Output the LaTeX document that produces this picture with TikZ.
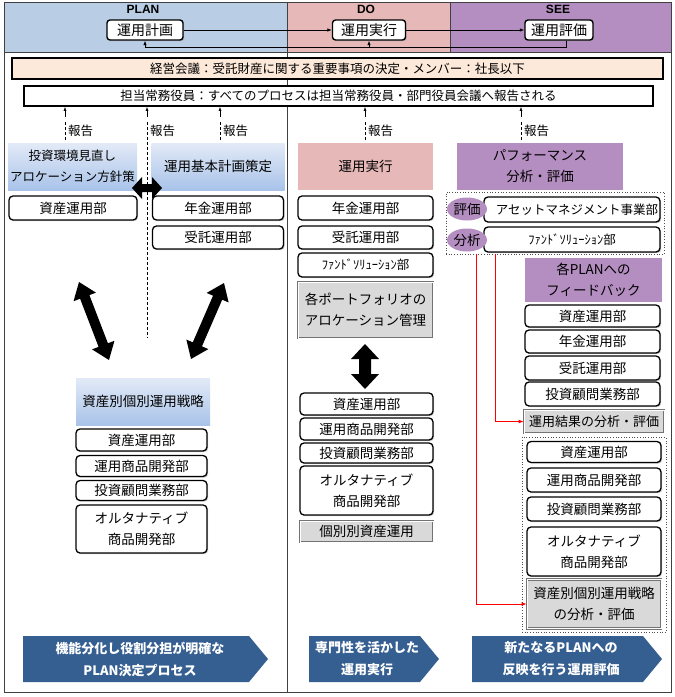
\documentclass[tikz,border=0pt]{standalone}
\usepackage{fontspec}
\setmainfont{Noto Sans CJK JP}
\newfontfamily\latfont{Liberation Sans}
\usetikzlibrary{arrows.meta,shapes.geometric,calc,shadows}
\definecolor{hblue}{HTML}{B9CDE5}
\definecolor{hpink}{HTML}{E6B9B8}
\definecolor{hpurp}{HTML}{B48EC0}
\definecolor{peach}{HTML}{FDE9D9}
\definecolor{gbox}{HTML}{D9D9D9}
\definecolor{chev}{HTML}{355F91}
\definecolor{framec}{HTML}{404040}
\definecolor{gtop}{HTML}{E2EAF7}
\definecolor{gbot}{HTML}{A9C3E9}
\newcommand\fsz[2]{\fontsize{#1}{#2}\selectfont}
\newcommand\fatdbl[5]{%
  \coordinate (fa) at ($(#1)!#5!(#2)$);
  \coordinate (fb) at ($(#2)!#5!(#1)$);
  \fill[black] (#1) -- ($(fa)!#3!90:(#2)$) -- ($(fa)!#4!90:(#2)$) -- ($(fb)!#4!-90:(#1)$) -- ($(fb)!#3!-90:(#1)$) -- (#2)
    -- ($(fb)!#3!90:(#1)$) -- ($(fb)!#4!90:(#1)$) -- ($(fa)!#4!-90:(#2)$) -- ($(fa)!#3!-90:(#2)$) -- cycle;
}
\tikzset{
  shd/.style={drop shadow={shadow xshift=1.2pt,shadow yshift=-1.2pt,fill=black!40}},
  dept/.style={draw=black, line width=1.3pt, rounded corners=4pt, fill=white, align=center, inner sep=0pt, font=\fsz{13.5}{21}, shd},
  hbox/.style={draw=black, line width=1.4pt, rounded corners=3pt, fill=white, inner sep=0pt, font=\fsz{14}{16}, shd, minimum height=20pt},
  hlabel/.style={font=\latfont\bfseries\fsz{12}{13}, inner sep=0pt},
  bar/.style={draw=black, line width=1.8pt, inner sep=0pt, font=\fsz{12.5}{15}},
  gradbox/.style={top color=gtop, bottom color=gbot, draw=none, align=center, inner sep=0pt, font=\fsz{13.5}{21}},
  colbox/.style={draw=none, align=center, inner sep=0pt, font=\fsz{13.5}{21}},
  graybox/.style={draw=black!55, double=white, double distance=0.8pt, line width=0.8pt, fill=gbox, align=center, inner sep=0pt, font=\fsz{13.5}{21}},
  dotbox/.style={draw=black!70, dotted, line width=0.7pt, inner sep=0pt},
  tag/.style={ellipse, fill=hpurp, inner sep=0pt, minimum width=40pt, minimum height=23pt, font=\fsz{13.5}{15}},
  rep/.style={-{Latex[length=4pt,width=3pt]}, line width=0.6pt},
  repdash/.style={dashed, dash pattern=on 3pt off 2pt, line width=0.6pt},
  replabel/.style={anchor=west, inner sep=0pt, font=\fsz{12.5}{14}},
  flow/.style={-{Latex[length=4.5pt,width=3.5pt]}, line width=0.7pt},
  redline/.style={red, line width=0.8pt, -{Latex[length=5pt,width=4pt]}},
  chevtext/.style={text=white, align=center, inner sep=0pt, font=\bfseries\fsz{13}{22}},
}
\begin{document}
\begin{tikzpicture}[x=1pt,y=-1pt]
\useasboundingbox (0,0) rectangle (675,697);
% header bands
\fill[hblue] (4,2) rectangle (287,52);
\fill[hpink] (287,2) rectangle (450,52);
\fill[hpurp] (450,2) rectangle (671,52);
\draw[framec, line width=1pt] (287,2) -- (287,692);
\draw[framec, line width=1pt] (450,2) -- (450,52);
\draw[framec, line width=1pt] (4,52) -- (671,52);
\draw[framec, line width=1pt] (4,2) rectangle (671,692);
% header content
\node[hlabel] (plan) at (143,9) {PLAN};
\node[hlabel] (do) at (366,9) {DO};
\node[hlabel] (see) at (558,9) {SEE};
\node[hbox, minimum width=76pt] (p1) at (145,30) {運用計画};
\node[hbox, minimum width=73pt] (d1) at (369,30) {運用実行};
\node[hbox, minimum width=68pt] (s1) at (559,30) {運用評価};
\draw[flow] (p1) -- (d1);
\draw[flow] (d1) -- (s1);
\coordinate (ret) at (0,47);
\draw[flow] (s1.south -| 566,0) -- (566,47) -- (p1.south |- ret) -- (p1.south);
\draw[flow] (d1.south |- ret) -- (d1.south);
% bars
\node[bar, fill=peach, minimum width=651pt, minimum height=21pt] (keiei) at (337.5,68.5) {経営会議：受託財産に関する重要事項の決定・メンバー：社長以下};
\node[bar, fill=white, minimum width=629pt, minimum height=20pt] (tanto) at (338.5,96) {担当常務役員：すべてのプロセスは担当常務役員・部門役員会議へ報告される};
% report arrows
\foreach \x/\n in {65/a,147/b,220/c,365/d,521/e} {
  \coordinate (rep\n) at (\x,117);
  \draw[rep] (rep\n) -- (rep\n |- tanto.south);
}
\foreach \x/\n in {65/a,220/c,365/d,521/e} {
  \coordinate (rd\n) at (\x,122);
  \draw[repdash] (rd\n) -- ++(0,18);
  \node[replabel] (lab\n) at (\x+3,131) {報告};
}
\coordinate (rdb) at (147,122);
\coordinate (rdbe) at (147,338);
\draw[repdash] (rdb) -- (rdbe);
\node[replabel] (labb) at (150,131) {報告};
% left column
\node[gradbox, minimum width=129pt, minimum height=47pt, font=\fsz{12.5}{21}] (kankyo) at (72.5,166.5) {投資環境見直し\\アロケーション方針策};
\node[gradbox, minimum width=133pt, minimum height=47pt] (kihon) at (218,166.5) {運用基本計画策定};
\coordinate (hA) at (132,188);
\coordinate (hB) at (162,188);
\fatdbl{hA}{hB}{11pt}{4pt}{10pt}
\node[dept, minimum width=128pt, minimum height=24pt] (l1) at (73,208) {資産運用部};
\node[dept, minimum width=131pt, minimum height=24pt] (l2) at (218,208) {年金運用部};
\node[dept, minimum width=131pt, minimum height=23pt] (l3) at (218,237.5) {受託運用部};
\coordinate (dA) at (79,282);
\coordinate (dB) at (109,360);
\fatdbl{dA}{dB}{12pt}{5pt}{16pt}
\coordinate (eA) at (224,283);
\coordinate (eB) at (191,359);
\fatdbl{eA}{eB}{12pt}{5pt}{16pt}
\node[gradbox, minimum width=134pt, minimum height=47pt] (senryaku) at (143,401.5) {資産別個別運用戦略};
\node[dept, minimum width=131pt, minimum height=22pt] (l4) at (141.5,440) {資産運用部};
\node[dept, minimum width=131pt, minimum height=21pt] (l5) at (141.5,466) {運用商品開発部};
\node[dept, minimum width=131pt, minimum height=20pt] (l6) at (141.5,490.5) {投資顧問業務部};
\node[dept, minimum width=131pt, minimum height=48pt] (l7) at (141.5,529) {オルタナティブ\\商品開発部};
% middle column
\node[colbox, fill=hpink, minimum width=135pt, minimum height=47pt] (jikko) at (365.5,166.5) {運用実行};
\node[dept, minimum width=135pt, minimum height=24pt] (m1) at (365.5,208) {年金運用部};
\node[dept, minimum width=135pt, minimum height=23pt] (m2) at (365.5,237.5) {受託運用部};
\node[dept, minimum width=135pt, minimum height=24pt, font=\fsz{12.5}{15}] (m3) at (365.5,265) {ﾌｧﾝﾄﾞｿﾘｭｰｼｮﾝ部};
\node[graybox, minimum width=135pt, minimum height=56pt] (port) at (365.5,310) {各ポートフォリオの\\アロケーション管理};
\coordinate (vA) at (365,344);
\coordinate (vB) at (365,389);
\fatdbl{vA}{vB}{14pt}{6pt}{15pt}
\node[dept, minimum width=133pt, minimum height=22pt] (m4) at (366.5,404) {資産運用部};
\node[dept, minimum width=133pt, minimum height=22pt] (m5) at (366.5,429) {運用商品開発部};
\node[dept, minimum width=133pt, minimum height=20pt] (m6) at (366.5,453) {投資顧問業務部};
\node[dept, minimum width=133pt, minimum height=49pt] (m7) at (366.5,490.5) {オルタナティブ\\商品開発部};
\node[graybox, minimum width=133pt, minimum height=21pt] (kobetsu) at (366.5,531.5) {個別別資産運用};
% right column
\node[colbox, fill=hpurp, minimum width=166pt, minimum height=47pt] (perf) at (540,166.5) {パフォーマンス\\分析・評価};
\node[dotbox, minimum width=218pt, minimum height=62pt] (grp1) at (555,223) {};
\node[dept, minimum width=176pt, minimum height=25pt, font=\fsz{12.5}{15}] (asset) at (572,209.5) {\hspace*{10pt}アセットマネジメント事業部};
\node[dept, minimum width=176pt, minimum height=25pt, font=\fsz{12.5}{15}] (fund) at (572,239.5) {ﾌｧﾝﾄﾞｿﾘｭｰｼｮﾝ部};
\node[tag] (hyoka) at (467,209) {評価};
\node[tag] (bunseki) at (467,240) {分析};
\node[colbox, fill=hpurp, minimum width=137pt, minimum height=44pt] (fb) at (593.5,280) {各PLANへの\\フィードバック};
\node[dept, minimum width=135pt, minimum height=22pt] (r1) at (592.5,316) {資産運用部};
\node[dept, minimum width=135pt, minimum height=23pt] (r2) at (592.5,341.5) {年金運用部};
\node[dept, minimum width=135pt, minimum height=24pt] (r3) at (592.5,368) {受託運用部};
\node[dept, minimum width=135pt, minimum height=24pt] (r4) at (592.5,394) {投資顧問業務部};
\node[graybox, minimum width=140pt, minimum height=23pt, font=\fsz{13}{15}] (kekka) at (594,421.5) {運用結果の分析・評価};
\node[dotbox, minimum width=144pt, minimum height=195pt] (grp2) at (594,534.5) {};
\node[dept, minimum width=134pt, minimum height=21pt] (r5) at (594,452) {資産運用部};
\node[dept, minimum width=134pt, minimum height=24pt] (r6) at (594,480) {運用商品開発部};
\node[dept, minimum width=134pt, minimum height=24pt] (r7) at (594,509) {投資顧問業務部};
\node[dept, minimum width=134pt, minimum height=49pt] (r8) at (594,551.5) {オルタナティブ\\商品開発部};
\node[graybox, minimum width=134pt, minimum height=49pt] (bun2) at (594,604) {資産別個別運用戦略\\の分析・評価};
\coordinate (rA) at (495,254);
\coordinate (rB) at (476,254);
\draw[redline] (rA) |- (kekka.west);
\draw[redline] (rB) |- (bun2.west);
% chevrons
\fill[chev] (23,636) -- (249,636) -- (268,659) -- (249,682) -- (23,682) -- cycle;
\node[chevtext] (c1) at (140,659) {機能分化し役割分担が明確な\\PLAN決定プロセス};
\fill[chev] (309,636) -- (420,636) -- (439,659) -- (420,682) -- (309,682) -- cycle;
\node[chevtext] (c2) at (367,659) {専門性を活かした\\運用実行};
\fill[chev] (472,636) -- (643,636) -- (662,659) -- (643,682) -- (472,682) -- cycle;
\node[chevtext] (c3) at (561,659) {新たなるPLANへの\\反映を行う運用評価};
\end{tikzpicture}
\end{document}
